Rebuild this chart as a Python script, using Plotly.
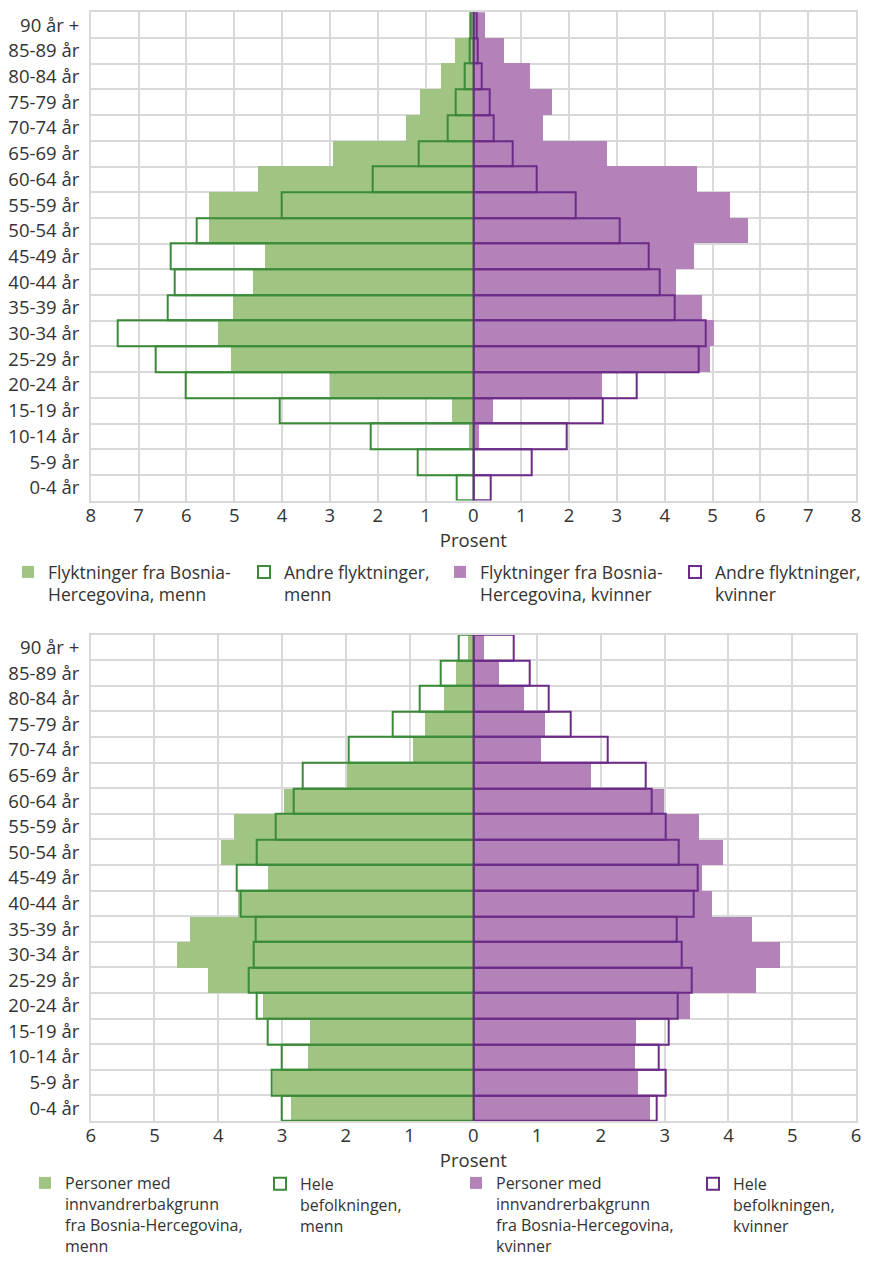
import plotly.graph_objects as go

W, H = 872, 1263

age_groups = ["0-4 år", "5-9 år", "10-14 år", "15-19 år", "20-24 år", "25-29 år",
              "30-34 år", "35-39 år", "40-44 år", "45-49 år", "50-54 år", "55-59 år",
              "60-64 år", "65-69 år", "70-74 år", "75-79 år", "80-84 år", "85-89 år",
              "90 år +"]

# Top chart: refugees (percent)
bosnia_refugees_men = [0.0, 0.01, 0.09, 0.45, 3.00, 5.08, 5.34, 5.03, 4.61, 4.36,
                       5.53, 5.53, 4.50, 2.94, 1.41, 1.12, 0.68, 0.40, 0.10]
other_refugees_men = [0.34, 1.17, 2.15, 4.05, 6.02, 6.64, 7.43, 6.39, 6.24, 6.33,
                      5.79, 4.01, 2.11, 1.15, 0.53, 0.36, 0.19, 0.07, 0.05]
bosnia_refugees_women = [0.0, 0.0, 0.12, 0.41, 2.69, 4.95, 5.03, 4.78, 4.24, 4.60,
                         5.73, 5.35, 4.66, 2.78, 1.46, 1.63, 1.17, 0.64, 0.24]
other_refugees_women = [0.36, 1.23, 1.96, 2.70, 3.42, 4.72, 4.85, 4.21, 3.90, 3.67,
                        3.05, 2.14, 1.33, 0.82, 0.43, 0.34, 0.17, 0.10, 0.06]

# Bottom chart: immigrant background vs whole population (percent)
bih_background_men = [2.86, 3.15, 2.59, 2.56, 3.31, 4.16, 4.65, 4.44, 3.70, 3.23,
                      3.96, 3.75, 2.97, 1.98, 0.95, 0.76, 0.46, 0.27, 0.09]
whole_population_men = [3.01, 3.16, 3.01, 3.23, 3.40, 3.53, 3.45, 3.41, 3.65, 3.71,
                        3.39, 3.10, 2.81, 2.67, 1.96, 1.27, 0.84, 0.51, 0.235]
bih_background_women = [2.77, 2.57, 2.53, 2.55, 3.40, 4.42, 4.81, 4.37, 3.74, 3.58,
                        3.91, 3.54, 2.99, 1.84, 1.05, 1.12, 0.79, 0.40, 0.17]
whole_population_women = [2.87, 3.02, 2.90, 3.06, 3.20, 3.43, 3.27, 3.19, 3.45, 3.52,
                          3.22, 3.01, 2.79, 2.70, 2.10, 1.52, 1.18, 0.89, 0.63]

top_tick_values = [-8, -7, -6, -5, -4, -3, -2, -1, 0, 1, 2, 3, 4, 5, 6, 7, 8]
top_tick_labels = ["8", "7", "6", "5", "4", "3", "2", "1", "0", "1", "2", "3", "4", "5", "6", "7", "8"]
bottom_tick_values = [-6, -5, -4, -3, -2, -1, 0, 1, 2, 3, 4, 5, 6]
bottom_tick_labels = ["6", "5", "4", "3", "2", "1", "0", "1", "2", "3", "4", "5", "6"]

top_names = ["Flyktninger fra Bosnia-<br>Hercegovina, menn",
             "Andre flyktninger,<br>menn",
             "Flyktninger fra Bosnia-<br>Hercegovina, kvinner",
             "Andre flyktninger,<br>kvinner"]
bottom_names = ["Personer med<br>innvandrerbakgrunn<br>fra Bosnia-Hercegovina,<br>menn",
                "Hele<br>befolkningen,<br>menn",
                "Personer med<br>innvandrerbakgrunn<br>fra Bosnia-Hercegovina,<br>kvinner",
                "Hele<br>befolkningen,<br>kvinner"]

GREEN_FILL = "#a0c482"
GREEN_LINE = "#3a8a38"
PURPLE_FILL = "#b282b9"
PURPLE_LINE = "#6b2b87"
TEXT = "#333333"
GRID = "#d9d9d9"
FONT = "Open Sans"
TICK_SIZE = 18.5


def neg(vals):
    return [-v for v in vals]


fig = go.Figure()


def add_set(values, names, xa, ya, legends):
    men_fill, men_line, women_fill, women_line = values
    specs = [
        (neg(men_fill), names[0], GREEN_FILL, GREEN_FILL, 0, legends[0]),
        (women_fill, names[2], PURPLE_FILL, PURPLE_FILL, 0, legends[2]),
        (neg(men_line), names[1], "rgba(0,0,0,0)", GREEN_LINE, 2, legends[1]),
        (women_line, names[3], "rgba(0,0,0,0)", PURPLE_LINE, 2, legends[3]),
    ]
    for xs, name, fc, lc, lw, lg in specs:
        fig.add_trace(go.Bar(
            y=age_groups, x=xs, orientation="h", name=name,
            marker=dict(color=fc, line=dict(color=lc, width=lw)),
            xaxis=xa, yaxis=ya, legend=lg,
            customdata=[abs(v) for v in xs],
            hovertemplate="%{y}: %{customdata:.2f} %<extra></extra>",
        ))


add_set([bosnia_refugees_men, other_refugees_men, bosnia_refugees_women, other_refugees_women],
        top_names, "x", "y", ["legend", "legend2", "legend3", "legend4"])
add_set([bih_background_men, whole_population_men, bih_background_women, whole_population_women],
        bottom_names, "x2", "y2", ["legend5", "legend6", "legend7", "legend8"])

x_dom = [90.7 / W, 856 / W]
top_dom = [1 - 500.6 / H, 1 - 12.3 / H]
bot_dom = [1 - 1121 / H, 1 - 634.7 / H]

common_x = dict(
    showgrid=True, gridcolor=GRID, gridwidth=1.5, zeroline=False,
    showline=True, linecolor=GRID, linewidth=1.5, mirror=True,
    tickfont=dict(family=FONT, size=TICK_SIZE, color=TEXT), ticks="", ticklabelstandoff=-3,
    title=dict(text="Prosent", font=dict(family=FONT, size=TICK_SIZE, color=TEXT), standoff=0),
    fixedrange=True, automargin=False,
)
common_y = dict(
    type="category", categoryorder="array", categoryarray=age_groups,
    showgrid=True, gridcolor=GRID, gridwidth=1.5, tickson="boundaries",
    showline=True, linecolor=GRID, linewidth=1.5, mirror=True,
    tickfont=dict(family=FONT, size=TICK_SIZE, color=TEXT), ticks="", ticklabelstandoff=6,
    fixedrange=True, automargin=False,
)


def leg(text_x, y_px, size, anchor):
    return dict(x=(text_x - 40) / W, y=1 - y_px / H, xanchor="left", yanchor=anchor,
                font=dict(family=FONT, size=size, color=TEXT),
                bgcolor="rgba(0,0,0,0)", valign="top",
                orientation="v", itemclick=False, itemdoubleclick=False)


layout = dict(
    width=W, height=H,
    margin=dict(l=0, r=0, t=0, b=0, autoexpand=False),
    paper_bgcolor="white", plot_bgcolor="white",
    barmode="overlay", bargap=0,
    font=dict(family=FONT, color=TEXT),
    xaxis=dict(domain=x_dom, anchor="y", range=[-8, 8], tickvals=top_tick_values,
               ticktext=top_tick_labels, **common_x),
    yaxis=dict(domain=top_dom, anchor="x", **common_y),
    xaxis2=dict(domain=x_dom, anchor="y2", range=[-6, 6], tickvals=bottom_tick_values,
                ticktext=bottom_tick_labels, **common_x),
    yaxis2=dict(domain=bot_dom, anchor="x2", **common_y),
    showlegend=True,
)

top_text_x = [48, 284, 480, 715]
bottom_text_x = [65, 300, 496, 733]
legend_keys = ["legend", "legend2", "legend3", "legend4",
               "legend5", "legend6", "legend7", "legend8"]
# bottom legend: 4-line items anchored to the bottom edge, 3-line items top-aligned with them
bottom_leg_top = H - (4 * 16 * 1.3 + 3 + 10)
for i in range(4):
    layout[legend_keys[i]] = leg(top_text_x[i], 554, 17.5, "top")
    if i in (0, 2):
        layout[legend_keys[i + 4]] = leg(bottom_text_x[i], H, 16, "bottom")
    else:
        layout[legend_keys[i + 4]] = leg(bottom_text_x[i], bottom_leg_top, 16, "top")

fig.update_layout(**layout)

fig.write_html(
    "out.html",
    config={"displayModeBar": False},
    post_script="document.body.style.margin='0';document.documentElement.style.overflow='hidden';",
)
